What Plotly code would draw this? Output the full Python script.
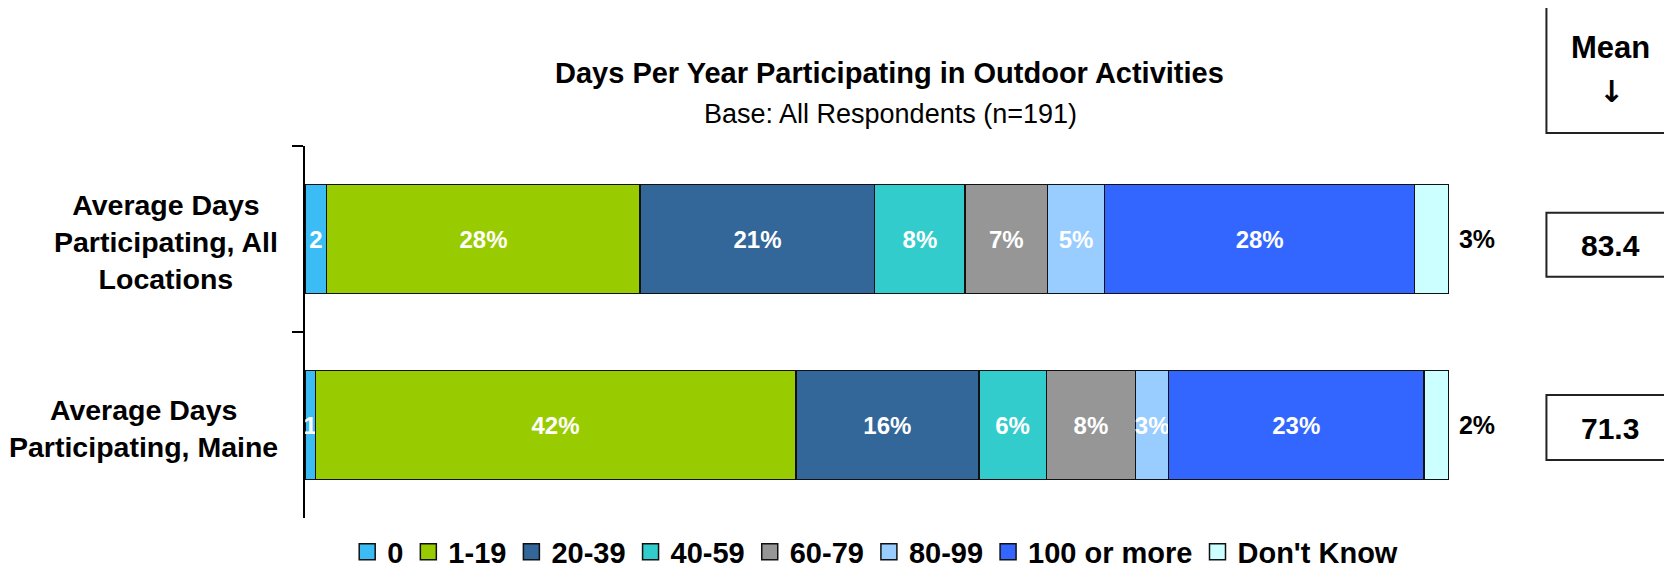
import plotly.graph_objects as go

# ---------------- data ----------------
categories = ["Average Days Participating, All Locations", "Average Days Participating, Maine"]
category_labels = ["Average Days<br>Participating, All<br>Locations", "Average Days<br>Participating, Maine"]
series_names = ["0", "1-19", "20-39", "40-59", "60-79", "80-99", "100 or more", "Don't Know"]
all_locations = [1.9, 27.4, 20.5, 7.9, 7.2, 5.0, 27.1, 3.0]
maine = [0.9, 42.0, 16.0, 5.9, 7.8, 2.9, 22.3, 2.2]
all_locations_labels = ["2", "28%", "21%", "8%", "7%", "5%", "28%", "3%"]
maine_labels = ["1", "42%", "16%", "6%", "8%", "3%", "23%", "2%"]
means = [83.4, 71.3]
title = "Days Per Year Participating in Outdoor Activities"
subtitle = "Base: All Respondents (n=191)"

colors = ["#3BBCF5", "#99CC00", "#336699", "#33CCCC", "#969696", "#99CCFF", "#3366FF", "#CCFFFF"]

# ---------------- layout geometry (page pixels; page body has an 8px margin) ----------------
OFF = 8
W, H = 1672 - OFF, 570 - OFF
L, R, T, B = 305, 1448.6, 146, 518          # plot area in page pixels
FONT = "Liberation Sans, Arial, sans-serif"


def px(x):
    return (x - L) / (R - L)


def py(y):
    return (B - y) / (B - T)


fig = go.Figure()
for i, name in enumerate(series_names):
    vals = [all_locations[i], maine[i]]
    labels = [all_locations_labels[i], maine_labels[i]]
    last = i == len(series_names) - 1
    fig.add_trace(go.Bar(
        name=name,
        y=categories,
        x=vals,
        orientation="h",
        marker=dict(color=colors[i], line=dict(color="#111111", width=1.5)),
        text=["\u00a0" + t for t in labels] if last else labels,
        textposition="outside" if last else "inside",
        insidetextanchor="middle",
        textangle=0,
        constraintext="none",
        insidetextfont=dict(color="white", size=24, family=FONT, weight="bold"),
        outsidetextfont=dict(color="black", size=25, family=FONT, weight="bold"),
        cliponaxis=False,
        hoverinfo="skip",
        showlegend=False,
    ))

# legend entries (larger square swatches)
for i, name in enumerate(series_names):
    fig.add_trace(go.Scatter(
        name=name, x=[None], y=[None], mode="markers",
        marker=dict(symbol="square", size=16, color=colors[i], line=dict(color="#111111", width=1.5)),
        showlegend=True, hoverinfo="skip",
    ))

annotations = []
# category labels
for cat, lab in zip(categories, category_labels):
    annotations.append(dict(
        x=px(280), xref="paper", xanchor="right",
        y=cat, yref="y", yanchor="middle", yshift=-3,
        text=lab, align="center", showarrow=False,
        font=dict(size=28.5, family=FONT, color="black", weight="bold"),
    ))

# titles
annotations.append(dict(x=px(889), y=py(73), xref="paper", yref="paper", text=title,
                        showarrow=False, xanchor="center", yanchor="middle",
                        font=dict(size=29, family=FONT, color="black", weight="bold")))
annotations.append(dict(x=px(890), y=py(114), xref="paper", yref="paper", text=subtitle,
                        showarrow=False, xanchor="center", yanchor="middle",
                        font=dict(size=27, family=FONT, color="black")))

# mean header
annotations.append(dict(x=px(1610), y=py(47), xref="paper", yref="paper", text="Mean",
                        showarrow=False, xanchor="center", yanchor="middle",
                        font=dict(size=31, family=FONT, color="black", weight="bold")))
annotations.append(dict(x=px(1611), y=py(92), xref="paper", yref="paper", text="\u2193",
                        showarrow=False, xanchor="center", yanchor="middle",
                        font=dict(size=30, family="DejaVu Sans", color="black", weight="bold")))

shapes = [dict(type="rect", xref="paper", yref="paper", x0=px(1546), x1=px(1700),
               y0=py(133), y1=py(5), line=dict(color="#222222", width=2), fillcolor="white")]

mean_boxes = [(212.7, 276.7), (395, 460)]
for m, (top, bot) in zip(means, mean_boxes):
    shapes.append(dict(type="rect", xref="paper", yref="paper", x0=px(1546), x1=px(1700),
                       y0=py(bot), y1=py(top), line=dict(color="#222222", width=2)))
    annotations.append(dict(x=px(1610), y=py((top + bot) / 2 + 1), xref="paper", yref="paper",
                            text=f"{m:.1f}", showarrow=False, xanchor="center", yanchor="middle",
                            font=dict(size=30, family=FONT, color="black", weight="bold")))

fig.update_layout(
    width=W, height=H, autosize=False,
    margin=dict(l=L - OFF, r=W - (R - OFF), t=T - OFF, b=H - (B - OFF), pad=0, autoexpand=False),
    barmode="stack", bargap=0.414,
    plot_bgcolor="white", paper_bgcolor="white",
    showlegend=True,
    legend=dict(orientation="h", x=px(875), xanchor="center", y=py(552), yanchor="middle",
                font=dict(size=29, family=FONT, color="black", weight="bold"),
                traceorder="normal", itemwidth=30, bgcolor="rgba(0,0,0,0)", itemsizing="trace"),
    xaxis=dict(range=[0, 100], visible=False, fixedrange=True),
    yaxis=dict(type="category", autorange="reversed", showticklabels=False,
               categoryorder="array", categoryarray=categories,
               showline=True, linecolor="black", linewidth=1.5,
               ticks="outside", tickson="boundaries", ticklen=11, tickcolor="black", tickwidth=1.5,
               showgrid=False, zeroline=False, fixedrange=True),
    annotations=annotations,
    shapes=shapes,
    font=dict(family=FONT),
)

fig.write_html("out.html")
